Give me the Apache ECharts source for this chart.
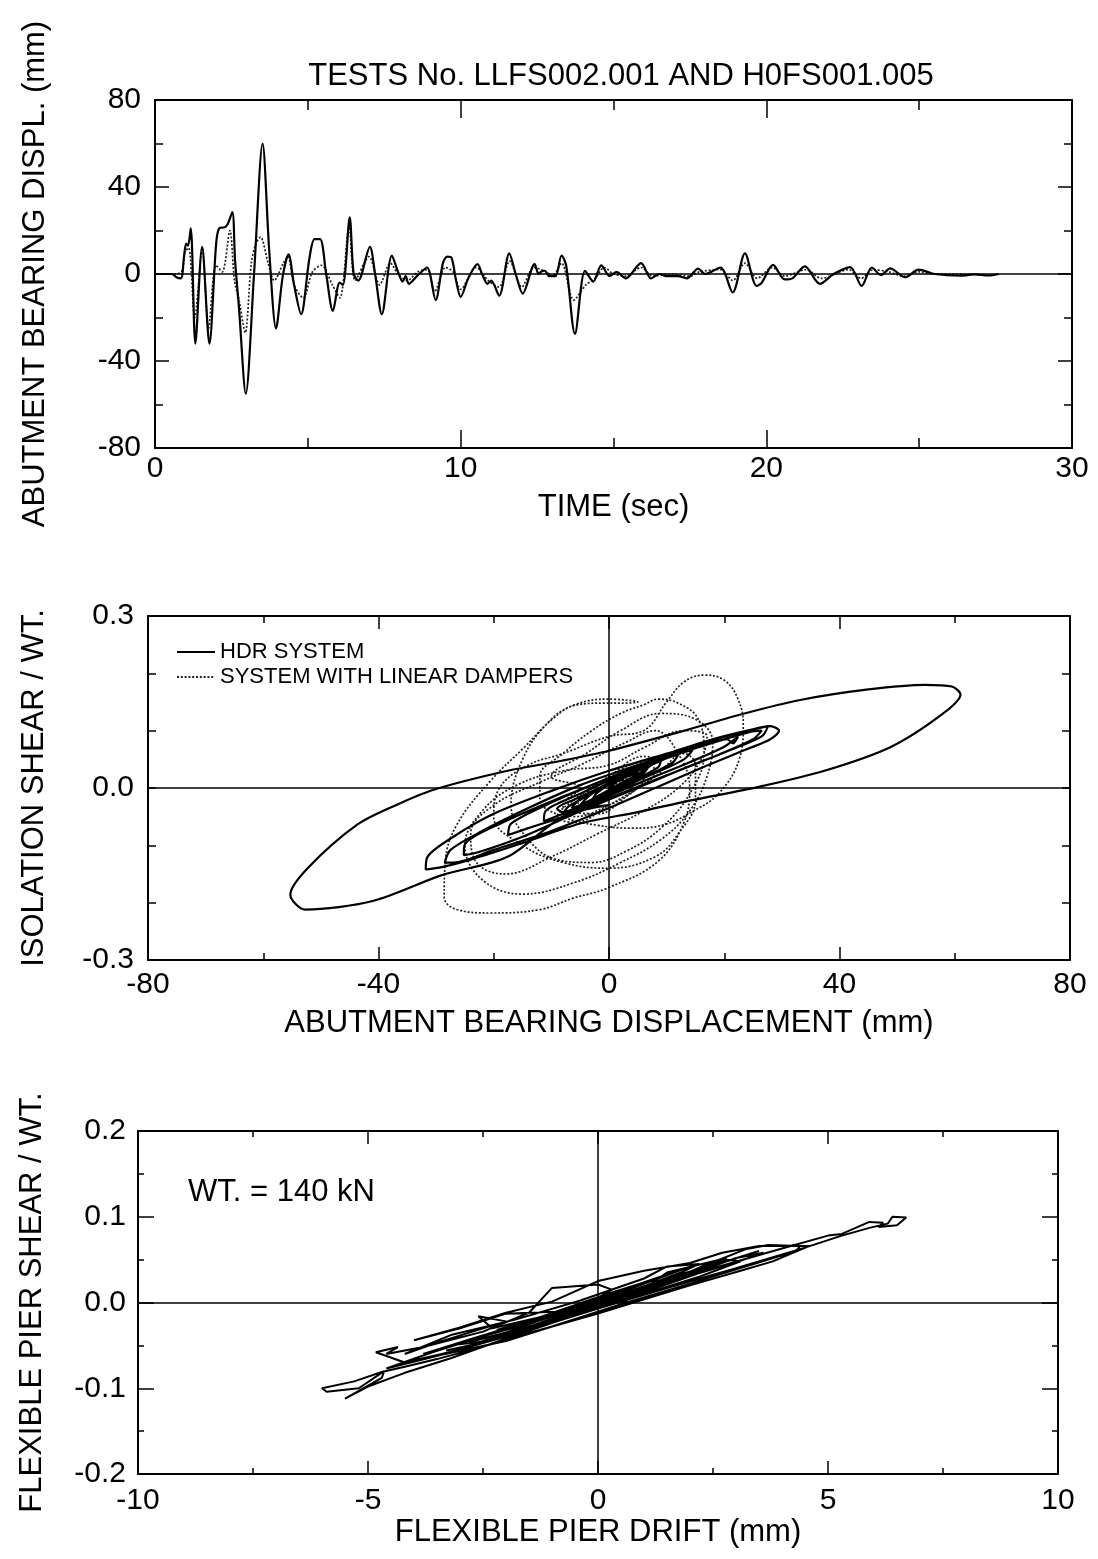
<!DOCTYPE html>
<html>
<head>
<meta charset="utf-8">
<script src="https://cdn.jsdelivr.net/npm/echarts@6/dist/echarts.min.js"></script>
<style>
html, body { margin: 0; padding: 0; background: #fff; }
#chart { width: 1098px; height: 1559px; }
</style>
</head>
<body>
<div id="chart"></div>
<script>
// top panel: abutment bearing displacement history [time (sec), displ (mm)]
const hdrDispl = [
  [0, 0], [0.55, 0], [0.7, -1.5], [0.85, -2], [0.95, 8], [1.02, 14], [1.08, 13], [1.17, 21],
  [1.32, -32], [1.54, 12.5], [1.78, -32], [2.0, 14], [2.1, 21], [2.28, 21.5], [2.38, 23],
  [2.53, 28.5], [2.62, 6], [2.75, -16], [2.97, -55], [3.24, 0], [3.52, 60], [3.74, 10],
  [3.96, -25], [4.18, -1], [4.37, 9], [4.55, -5], [4.78, -18.5], [5.05, 7], [5.22, 16],
  [5.4, 16], [5.6, 0], [5.82, -17], [6.04, -4], [6.15, -5], [6.37, 26], [6.5, 0], [6.65, -3],
  [7.03, 12.5], [7.2, 0], [7.42, -18.5], [7.75, 8.5], [7.95, 1], [8.1, -3.5], [8.2, -1],
  [8.3, -4.5], [8.6, -0.5], [8.9, 3], [9.18, -12], [9.42, 5], [9.56, 8], [9.7, 7.5],
  [9.85, -3], [10.0, -10.5], [10.25, -2], [10.55, 4.5], [10.7, 0], [10.88, -4.5], [11.0, -3],
  [11.26, -10], [11.59, 9.5], [11.8, 0], [12.03, -9], [12.42, 4.5], [12.55, 0], [12.63, 1],
  [12.75, 1.5], [12.9, -1], [13.1, -1], [13.3, 8.5], [13.45, 4], [13.74, -27.5], [14.07, 1.5],
  [14.34, -3.5], [14.6, 4], [14.87, -1], [15.1, 1], [15.4, -2], [15.9, 5], [16.23, -2],
  [16.5, 0], [16.73, -1], [17.1, -1], [17.4, -2], [17.77, 2.5], [18.0, 0], [18.5, 3],
  [18.9, -8.5], [19.3, 9.5], [19.68, -5.5], [19.85, -4], [20.22, 4.2], [20.6, -2.5],
  [20.85, -2], [21.26, 3.5], [21.75, -4.5], [22.2, 0], [22.74, 3.2], [23.12, -5.5], [23.45, 3],
  [23.75, -0.5], [24.05, 2.6], [24.54, -1.5], [24.98, 2], [25.5, 0], [26.35, -0.8],
  [26.8, -0.2], [27.27, -0.7], [27.6, 0]
];
const damperDispl = [
  [0, 0], [0.7, 0], [0.9, 2], [0.97, 10], [1.1, 12], [1.3, -20], [1.55, 12], [1.75, -25],
  [2.0, 4], [2.2, 1], [2.45, 20], [2.6, -3], [2.75, -12], [2.95, -27], [3.15, 5], [3.3, 14],
  [3.45, 17], [3.7, 5], [3.9, -3], [4.2, 5], [4.35, 8], [4.55, -5], [4.85, -11], [5.15, 1],
  [5.45, 4], [5.8, -5], [6.05, -11], [6.35, 22], [6.55, -3], [7.0, 8], [7.35, -5], [7.7, 5],
  [7.95, 0], [8.25, -3], [8.6, 1], [8.9, 2], [9.15, -8], [9.5, 3], [9.75, 1], [10.0, -7],
  [10.5, 3], [10.9, -3], [11.25, -6], [11.6, 6], [12.0, -6], [12.4, 3], [12.8, 1], [13.0, -1],
  [13.3, 5], [13.7, -12], [14.1, -5], [14.4, -2], [14.7, 3], [15.0, 0], [15.4, -1], [15.9, 3],
  [16.3, -1], [16.8, 0], [17.5, -1], [17.8, 1], [18.5, 2], [18.9, -3], [19.3, 5], [19.7, -2],
  [20.2, 3], [20.6, -1], [21.3, 2], [21.8, -2], [22.7, 2], [23.1, -2], [23.5, 2], [24.0, 1],
  [24.5, -1], [25.0, 1], [25.5, 0], [26.5, 0]
];

// middle panel: isolation shear / wt. vs abutment bearing displacement [mm, -]
const hdrLoops = [
  [0, 0], [4, 0.03], [7, 0.045], [8, 0.046], [6, 0.03], [2, 0.008], [-3, -0.02], [-6, -0.036],
  [-7, -0.042], [-5, -0.036], [0, -0.03], [-8, -0.05],
  [-17.6, -0.12], [-29, -0.152], [-41, -0.197], [-52.7, -0.212], [-55.3, -0.186], [-52.3, -0.14],
  [-43.7, -0.064], [-37, -0.03], [-30.4, -0.003], [-17.6, 0.03], [-8, 0.048], [0, 0.065],
  [12, 0.097], [23.5, 0.13], [33.4, 0.154], [45, 0.172], [54.8, 0.18], [59.5, 0.177],
  [61, 0.163], [58, 0.13], [49, 0.072], [37.4, 0.03], [26, 0.002], [14, -0.022], [5, -0.042],
  [-5, -0.062], [-15, -0.096], [-24, -0.125], [-29, -0.138], [-31.8, -0.142],
  [-31.5, -0.12], [-27, -0.085], [-20, -0.045], [-10, -0.005], [0, 0.03], [10, 0.06],
  [18, 0.085], [24, 0.1], [28, 0.108], [29.5, 0.1],
  [28, 0.085], [24, 0.068], [16, 0.035], [8, 0.0], [0, -0.035], [-10, -0.075], [-20, -0.108],
  [-27, -0.13], [-28.5, -0.13],
  [-27.5, -0.108], [-22, -0.075], [-14, -0.035], [-5, 0.005], [5, 0.04], [14, 0.07],
  [22, 0.095], [27.6, 0.108],
  [26.5, 0.09], [20, 0.062], [12, 0.03], [3, -0.008], [-6, -0.045], [-15, -0.085],
  [-23, -0.113], [-25.2, -0.117],
  [-25, -0.098], [-18, -0.058], [-8, -0.015], [2, 0.025], [12, 0.06], [20, 0.085],
  [24.5, 0.098], [26.5, 0.1],
  [25, 0.085], [19, 0.058], [10, 0.022], [0, -0.018], [-8, -0.05], [-14, -0.07],
  [-17.5, -0.082],
  [-17, -0.062], [-11, -0.03], [-3, 0.005], [5, 0.038], [12, 0.062], [18, 0.08], [20.5, 0.085],
  [21.5, 0.078], [22.4, 0.09],
  [20, 0.072], [14, 0.045], [6, 0.012], [-2, -0.022], [-8, -0.045], [-11.3, -0.058],
  [-11, -0.04], [-5, -0.01], [2, 0.022], [8, 0.045], [12, 0.06], [14.5, 0.066],
  [13, 0.05], [8, 0.026], [2, 0.0], [-4, -0.026], [-8, -0.042], [-9, -0.036], [-6, -0.02],
  [0, 0.008], [6, 0.034], [10, 0.052], [12, 0.058], [11, 0.044], [6, 0.018], [0, -0.012],
  [-5, -0.034], [-8, -0.046], [-7, -0.032], [-3, -0.01], [2, 0.015], [6, 0.035], [9, 0.048],
  [8.5, 0.036], [4, 0.012], [-1, -0.012], [-5, -0.03], [-6.5, -0.035], [-5, -0.019],
  [0, 0.009], [5, 0.033], [7, 0.04], [6, 0.026], [1, 0.0], [-3, -0.02], [-5, -0.03],
  [-3, -0.01], [2, 0.015], [5, 0.027], [4, 0.01], [0, -0.008], [-3, -0.022], [-2, -0.008],
  [2, 0.014], [3, 0.01], [0, 0]
];
const damperLoops = [
  [0, 0], [5, 0.03], [8, 0.05], [6, 0.055], [0, 0.02], [-6, -0.02], [-9, -0.05], [-6, -0.06],
  [0, -0.03], [8, 0.02], [13, 0.06], [15, 0.04], [15, -0.02], [12, -0.08], [8, -0.12], [0, -0.14],
  [-8, -0.13], [-15, -0.1], [-20, -0.05], [-19, 0.0], [-14, 0.04], [-8, 0.06], [0, 0.09],
  [6, 0.1], [10, 0.15], [13, 0.185], [16.5, 0.197], [20, 0.188], [22.4, 0.155], [23.3, 0.11],
  [22.6, 0.05], [19, -0.01], [14.3, -0.042], [9.6, -0.064], [4, -0.07], [-2, -0.065],
  [-8, -0.05], [-12, -0.02], [-12, 0.02], [-8, 0.06], [-3, 0.1], [2, 0.13], [6, 0.145],
  [8.5, 0.155], [12, 0.148], [15.5, 0.12], [16.5, 0.06], [14, -0.01], [9, -0.07], [3, -0.11],
  [-3, -0.13], [-9, -0.125], [-14, -0.09], [-17, -0.03], [-15, 0.05], [-10.5, 0.115],
  [-6, 0.145], [0, 0.155], [5, 0.15], [2, 0.148], [-1, 0.148], [-5.6, 0.145], [-9.6, 0.122],
  [-14.8, 0.07], [-20.6, 0.012], [-26.4, -0.064], [-28.4, -0.128], [-28.6, -0.19],
  [-26.4, -0.212], [-20.6, -0.218], [-12, -0.212], [-6.2, -0.192], [-0.4, -0.175],
  [8.5, -0.128], [13, -0.06], [14, 0.0], [12, 0.06], [8, 0.1], [3, 0.08], [-5, 0.04],
  [-12, 0.01], [-20, -0.03], [-24, -0.08], [-23, -0.13], [-18, -0.15], [-10, -0.12],
  [-2, -0.08], [6, -0.04], [12, 0.0], [16, 0.05], [17, 0.09], [13, 0.1], [6, 0.07], [0, 0.04],
  [-8, 0.03], [-16, 0.005], [-22, -0.04], [-25, -0.1], [-22, -0.16], [-15, -0.185],
  [-6, -0.165], [2, -0.13], [9, -0.09], [14, -0.04], [17, 0.02], [18, 0.08], [15, 0.12],
  [9, 0.13], [2, 0.1], [-4, 0.06], [-10, 0.02],
  [-5, 0.0], [-8, -0.03], [-6, -0.05], [0, -0.03], [5, 0.0], [8, 0.03], [6, 0.045], [0, 0.02],
  [-4, -0.01], [-6, -0.04], [-2, -0.045], [3, -0.015], [6, 0.015], [4, 0.03], [-1, 0.01],
  [-3, 0.0]
];

// bottom panel: flexible pier shear / wt. vs flexible pier drift [mm, -]
const pierLoops = [
  [0, 0], [1, 0.018], [2, 0.035], [2.8, 0.05], [3.1, 0.048], [2.2, 0.03], [1, 0.01],
  [-0.5, -0.012], [-1.8, -0.035], [-2.9, -0.052], [-3.3, -0.056], [-2.8, -0.05], [-1.5, -0.028],
  [0, -0.003], [1.4, 0.022], [2.3, 0.043], [2.5, 0.047], [3.2, 0.062], [3.7, 0.067],
  [4.4, 0.066], [4.3, 0.06], [3.4, 0.045], [2, 0.022], [0.5, -0.002], [-1, -0.028],
  [-2.4, -0.05], [-3.5, -0.066], [-4.2, -0.075], [-4.7, -0.081], [-5.3, -0.092], [-6, -0.1],
  [-5.9, -0.104], [-5.2, -0.1], [-4.65, -0.08], [-4.7, -0.088], [-5.2, -0.103], [-5.5, -0.112],
  [-5.0, -0.098], [-4.2, -0.082], [-3.2, -0.065], [-2, -0.042], [-0.5, -0.015], [1, 0.012],
  [2.5, 0.04], [4, 0.063], [5, 0.078], [5.3, 0.08], [5.9, 0.094], [6.2, 0.093], [6.1, 0.088],
  [6.5, 0.09], [6.7, 0.099], [6.4, 0.1], [6.3, 0.092], [5.9, 0.087], [5.3, 0.078],
  [4.5, 0.064], [3, 0.04], [1.5, 0.017], [0, -0.007], [-1.5, -0.032], [-3, -0.055],
  [-4.2, -0.07], [-4.83, -0.058], [-4.35, -0.052], [-4.6, -0.06], [-3.8, -0.052],
  [-2.5, -0.034], [-1.5, -0.012], [-1.0, 0.017], [0.0, 0.021], [0.3, 0.015], [0, 0.005],
  [-1, -0.014], [-2.3, -0.03], [-2.6, -0.016], [-2.0, -0.022], [-3.4, -0.045], [-4.2, -0.06],
  [-3.2, -0.038], [-1.8, -0.02], [-0.4, 0.002], [1, 0.028], [1.5, 0.042], [2.2, 0.045],
  [1.8, 0.035], [0.8, 0.015], [-0.6, -0.01], [-2, -0.03], [-3.2, -0.05], [-2.4, -0.045],
  [-1, -0.022], [0.4, 0.004], [1.6, 0.024], [3, 0.052], [3.6, 0.058], [3.0, 0.047],
  [1.8, 0.028], [0.6, 0.01], [-0.8, -0.016], [-1.8, -0.04], [-0.8, -0.025], [0.5, -0.002],
  [1.5, 0.035], [2.8, 0.052], [2.2, 0.04], [0.8, 0.012], [-0.8, -0.012], [-2.6, -0.04],
  [-3.8, -0.06], [-3.2, -0.05], [-1.2, -0.02], [0.6, 0.012], [2.6, 0.045], [3.5, 0.06],
  [2.8, 0.048], [1.2, 0.02], [-0.2, -0.004], [-1.6, -0.03], [-2.8, -0.046], [-2, -0.035],
  [-0.6, -0.008], [0.8, 0.02], [1.9, 0.04], [1.2, 0.026], [0, 0.004], [-1.4, -0.022],
  [-2.2, -0.032], [-1.2, -0.016], [0.2, 0.01], [1.4, 0.03], [0.6, 0.014], [-0.6, -0.01],
  [-2, -0.013], [-3, -0.03], [-4, -0.044], [-3, -0.029], [-2, -0.012], [-1, 0.001], [0, 0.025],
  [1, 0.037], [2, 0.046], [2.7, 0.058], [3.5, 0.066], [4.6, 0.066], [3.8, 0.048], [3.1, 0.037],
  [2, 0.02], [0.9, 0.002], [0, -0.013], [-1, -0.028], [-2, -0.045], [-3.4, -0.061],
  [-4.6, -0.077], [-3.6, -0.058], [-2.4, -0.038], [-1.2, -0.018], [0, 0.002], [1.2, 0.022],
  [2.4, 0.042], [1.6, 0.03], [0.4, 0.008], [-0.8, -0.012], [-0.2, -0.01], [0.8, 0.006], [0, 0]
];

// tick values for each axis
const timeTicks = [0, 10, 20, 30];
const displTicks = [-80, -40, 0, 40, 80];
const bearingTicks = [-80, -40, 0, 40, 80];
const shearTicks = [-0.3, 0.0, 0.3];
const driftTicks = [-10, -5, 0, 5, 10];
const pierShearTicks = [-0.2, -0.1, 0.0, 0.1, 0.2];

const FONT = "'Liberation Sans', Arial, Helvetica, sans-serif";

function axisPair(type, gridIndex, ticks, opts) {
  const base = {
    type: "value",
    gridIndex: gridIndex,
    min: ticks[0],
    max: ticks[ticks.length - 1],
    interval: ticks[1] - ticks[0],
    axisLine: { show: true, onZero: false, lineStyle: { color: "#000", width: 2 } },
    axisTick: { show: true, inside: true, length: opts.tickLen, lineStyle: { color: "#000", width: 1.5 } },
    minorTick: { show: true, splitNumber: opts.minor, length: opts.minorLen, lineStyle: { color: "#000", width: 1.5 } },
    splitLine: { show: false },
  };
  const main = Object.assign({}, base, {
    position: type === "x" ? "bottom" : "left",
    name: opts.name,
    nameLocation: "middle",
    nameGap: opts.nameGap,
    nameRotate: type === "x" ? 0 : 90,
    nameTextStyle: { color: "#000", fontSize: 31, fontFamily: FONT },
    axisLabel: {
      color: "#000",
      fontSize: 30,
      fontFamily: FONT,
      margin: opts.labelMargin,
      formatter: opts.fmt || ((v) => String(v)),
    },
  });
  const mirror = Object.assign({}, base, {
    position: type === "x" ? "top" : "right",
    axisLabel: { show: false },
  });
  return [main, mirror];
}

const xAxes = [].concat(
  axisPair("x", 0, timeTicks, { name: "TIME (sec)", nameGap: 44, labelMargin: 6, tickLen: 18, minor: 2, minorLen: 10 }),
  axisPair("x", 1, bearingTicks, { name: "ABUTMENT BEARING DISPLACEMENT (mm)", nameGap: 48, labelMargin: 10, tickLen: 13, minor: 2, minorLen: 7 }),
  axisPair("x", 2, driftTicks, { name: "FLEXIBLE PIER DRIFT (mm)", nameGap: 42, labelMargin: 12, tickLen: 13, minor: 2, minorLen: 6 })
);
const yAxes = [].concat(
  axisPair("y", 0, displTicks, { name: "ABUTMENT BEARING DISPL. (mm)", nameGap: 104, labelMargin: 14, tickLen: 14, minor: 2, minorLen: 8 }),
  axisPair("y", 1, shearTicks, { name: "ISOLATION SHEAR / WT.", nameGap: 98, labelMargin: 14, tickLen: 8, minor: 3, minorLen: 8, fmt: (v) => v.toFixed(1) }),
  axisPair("y", 2, pierShearTicks, { name: "FLEXIBLE PIER SHEAR / WT.", nameGap: 90, labelMargin: 12, tickLen: 16, minor: 2, minorLen: 6, fmt: (v) => v.toFixed(1) })
);

function zeroLines(withVertical) {
  const data = [{ yAxis: 0 }];
  if (withVertical) data.push({ xAxis: 0 });
  return {
    silent: true,
    symbol: ["none", "none"],
    label: { show: false },
    lineStyle: { color: "#000", width: 1.5, type: "solid" },
    data: data,
  };
}

const solid = { color: "#000", width: 2.2 };
const dotted = { color: "#222", width: 1.7, type: [2, 1.8] };

const chart = echarts.init(document.getElementById("chart"), null, { renderer: "canvas" });
chart.setOption({
  animation: false,
  backgroundColor: "#fff",
  title: [
    {
      text: "TESTS No. LLFS002.001 AND H0FS001.005",
      left: 616,
      top: 56,
      textAlign: "center",
      textStyle: { color: "#000", fontSize: 31, fontWeight: "normal", fontFamily: FONT },
    },
    {
      text: "WT. = 140 kN",
      left: 183,
      top: 1172,
      textStyle: { color: "#000", fontSize: 31, fontWeight: "normal", fontFamily: FONT },
    },
  ],
  legend: {
    data: ["HDR SYSTEM", "SYSTEM WITH LINEAR DAMPERS"],
    orient: "vertical",
    left: 176,
    top: 641,
    padding: 0,
    itemWidth: 38,
    itemHeight: 12,
    itemGap: 3,
    itemStyle: { opacity: 0 },
    textStyle: { color: "#000", fontSize: 22, fontFamily: FONT },
  },
  grid: [
    { left: 155, top: 100, width: 917, height: 348 },
    { left: 148, top: 616, width: 922, height: 344 },
    { left: 138, top: 1131, width: 920, height: 343 },
  ],
  xAxis: xAxes,
  yAxis: yAxes,
  series: [
    {
      name: "HDR SYSTEM",
      type: "line",
      xAxisIndex: 0,
      yAxisIndex: 0,
      data: hdrDispl,
      symbol: "none",
      smooth: 0.3,
      lineStyle: solid,
      itemStyle: { color: "#000" },
      markLine: zeroLines(false),
      z: 3,
    },
    {
      name: "SYSTEM WITH LINEAR DAMPERS",
      type: "line",
      xAxisIndex: 0,
      yAxisIndex: 0,
      data: damperDispl,
      symbol: "none",
      smooth: 0.3,
      lineStyle: dotted,
      itemStyle: { color: "#222" },
      z: 2,
    },
    {
      name: "HDR SYSTEM",
      type: "line",
      xAxisIndex: 2,
      yAxisIndex: 2,
      data: hdrLoops,
      symbol: "none",
      smooth: 0.3,
      lineStyle: solid,
      itemStyle: { color: "#000" },
      markLine: zeroLines(true),
      z: 3,
    },
    {
      name: "SYSTEM WITH LINEAR DAMPERS",
      type: "line",
      xAxisIndex: 2,
      yAxisIndex: 2,
      data: damperLoops,
      symbol: "none",
      smooth: 0.4,
      lineStyle: dotted,
      itemStyle: { color: "#222" },
      z: 2,
    },
    {
      name: "PIER",
      type: "line",
      xAxisIndex: 4,
      yAxisIndex: 4,
      data: pierLoops,
      symbol: "none",
      lineStyle: { color: "#000", width: 2 },
      itemStyle: { color: "#000" },
      markLine: zeroLines(true),
    },
  ],
});
</script>
</body>
</html>
